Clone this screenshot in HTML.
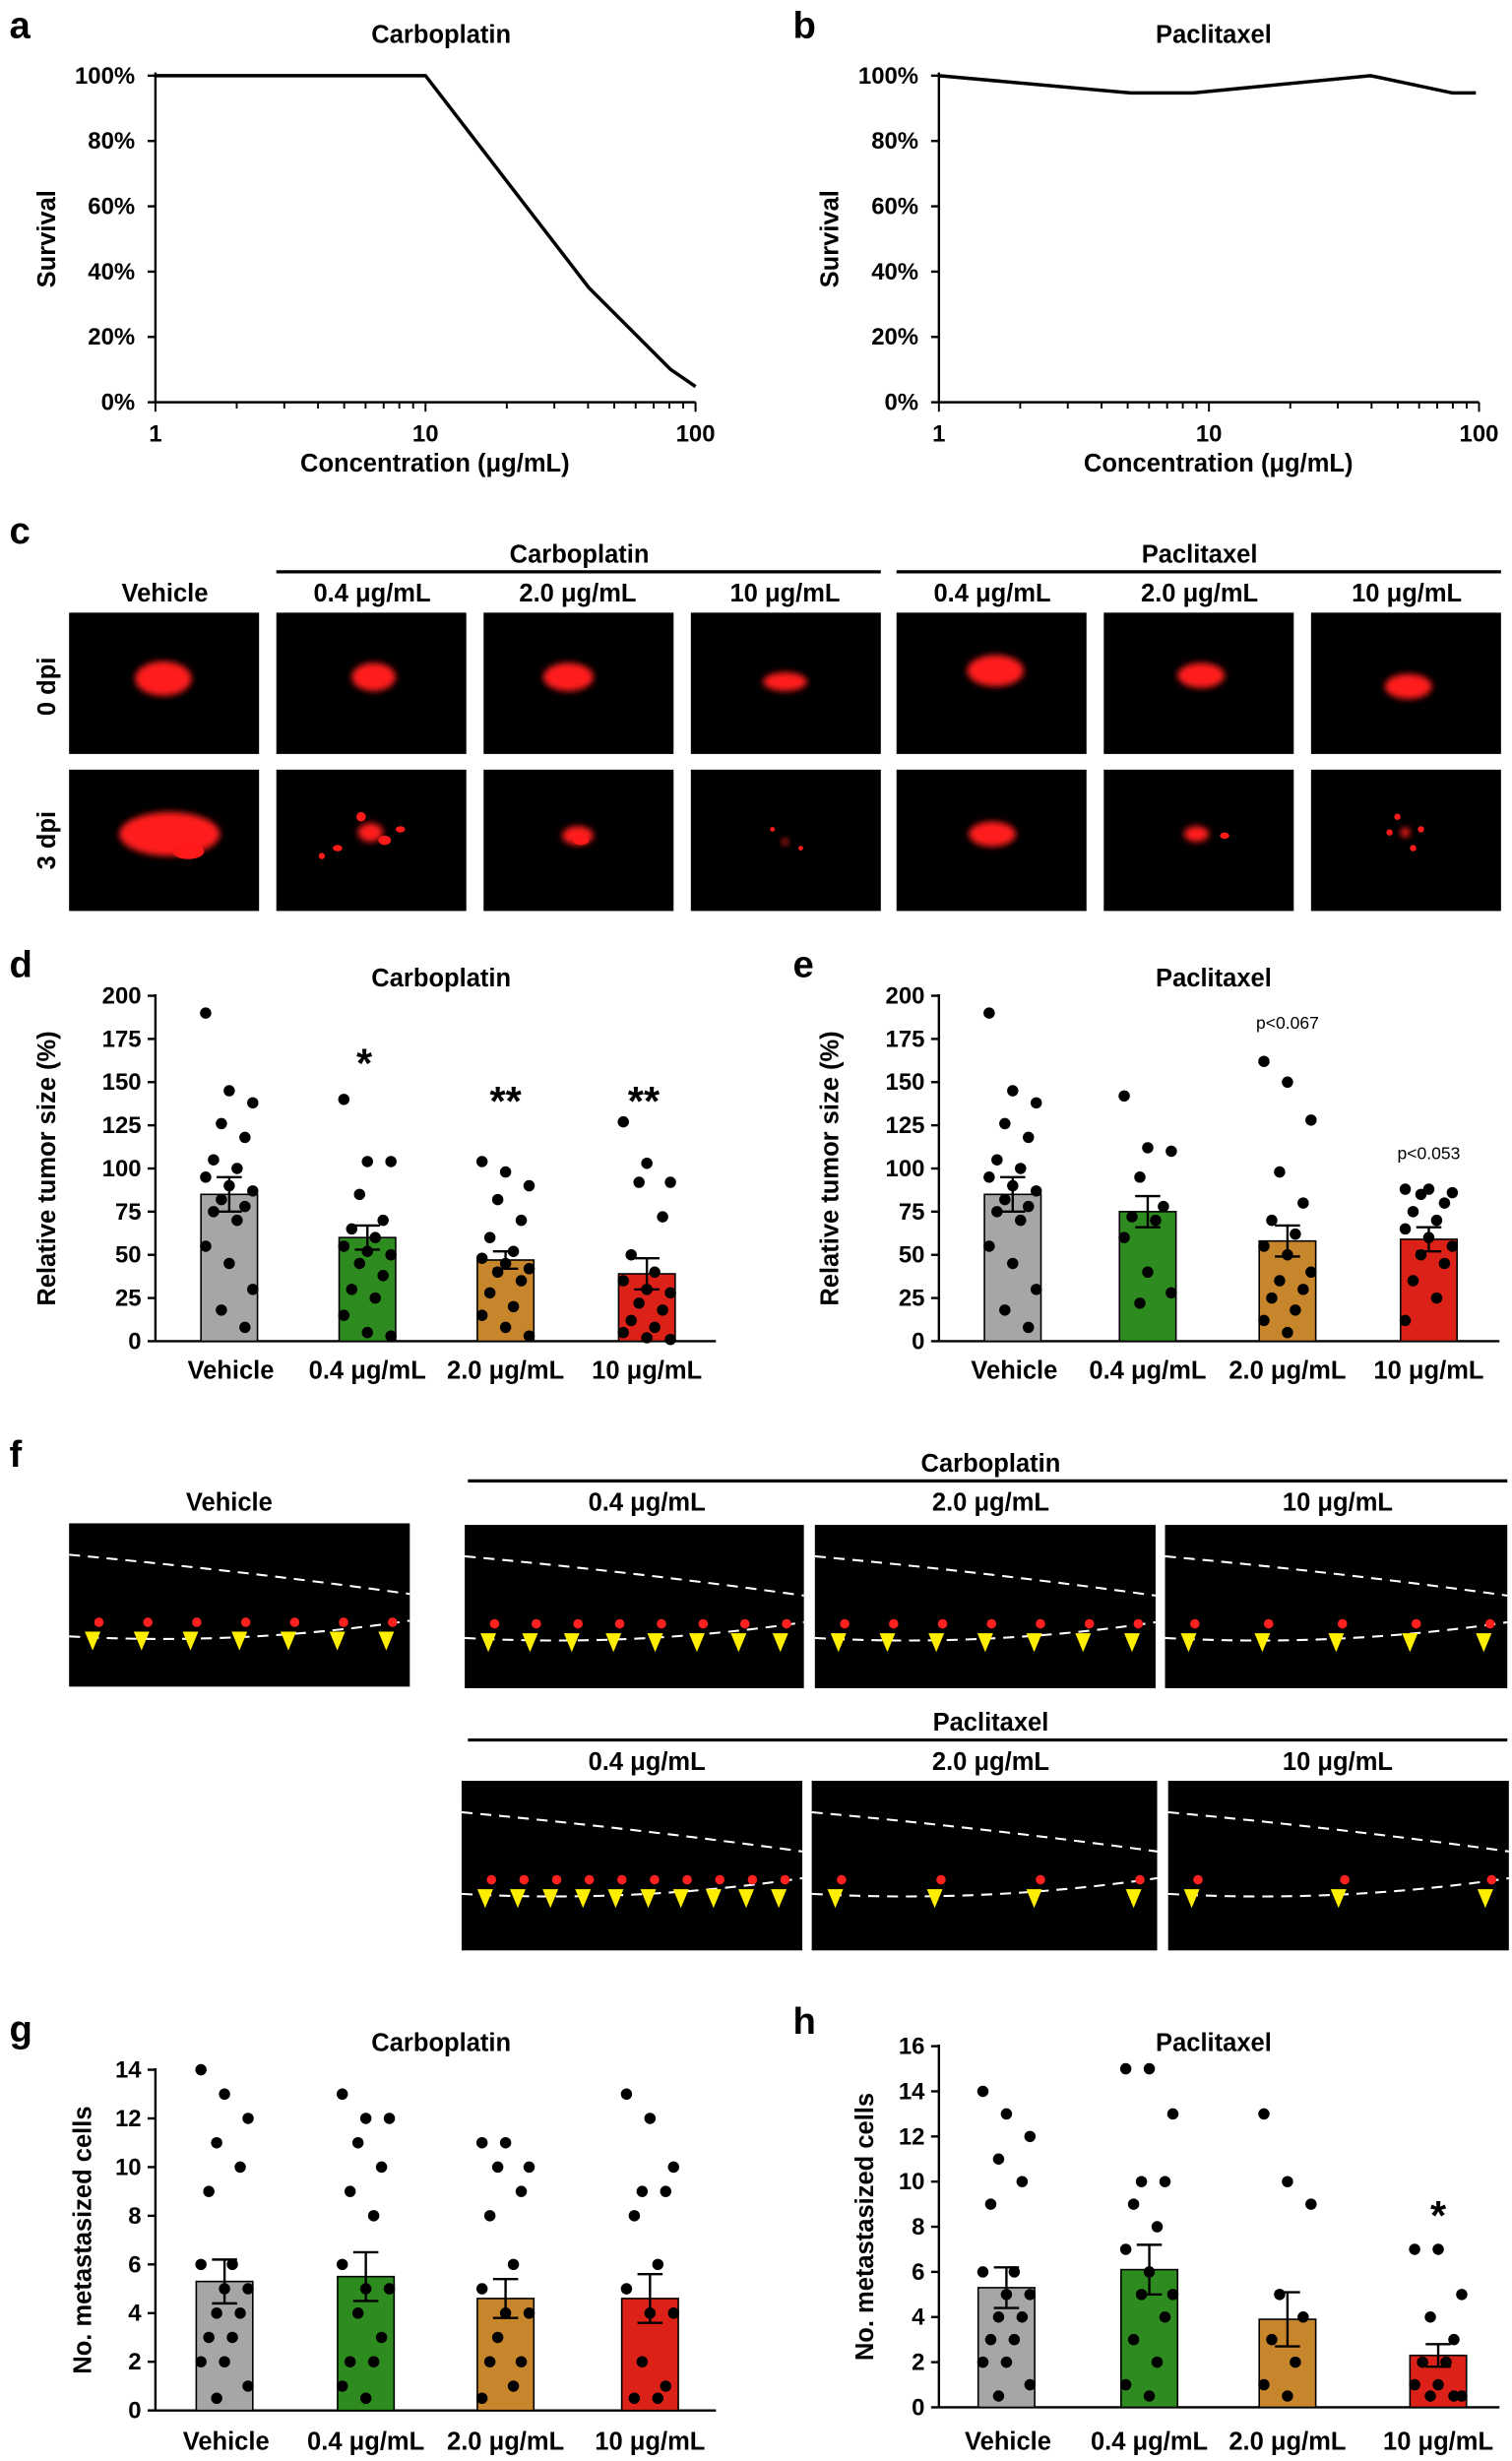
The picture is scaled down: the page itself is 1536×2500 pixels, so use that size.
<!DOCTYPE html>
<html><head><meta charset="utf-8">
<style>
html,body{margin:0;padding:0;background:#fff;}
svg{display:block;}
text{font-family:"Liberation Sans",Arial,sans-serif;fill:#000;}
.t{font-weight:bold;font-size:16px;text-anchor:middle;}
.tk{font-weight:bold;font-size:15px;}
.lab{font-weight:bold;font-size:24px;}
</style></head><body>
<svg id="s" width="1536" height="2500" viewBox="0 0 963 1567" xmlns="http://www.w3.org/2000/svg">
<defs><filter id="bl" x="-50%" y="-50%" width="200%" height="200%"><feGaussianBlur stdDeviation="2"/></filter></defs>
<rect width="963" height="1567" fill="#fff"/>
<text class="lab" x="6" y="24">a</text>
<text class="t" x="281" y="27">Carboplatin</text>
<text class="lab" x="505" y="24">b</text>
<text class="t" x="773" y="27">Paclitaxel</text>
<g id="ab"></g>
<text class="lab" x="6" y="346">c</text>
<text class="t" x="369" y="358">Carboplatin</text>
<line x1="176" y1="364" x2="561" y2="364" stroke="#000" stroke-width="2"/>
<text class="t" x="764" y="358">Paclitaxel</text>
<line x1="571" y1="364" x2="956" y2="364" stroke="#000" stroke-width="2"/>
<text class="t" x="105" y="383">Vehicle</text>
<text class="t" x="237" y="383">0.4 μg/mL</text>
<text class="t" x="368" y="383">2.0 μg/mL</text>
<text class="t" x="500" y="383">10 μg/mL</text>
<text class="t" x="632" y="383">0.4 μg/mL</text>
<text class="t" x="764" y="383">2.0 μg/mL</text>
<text class="t" x="896" y="383">10 μg/mL</text>
<text class="t" transform="translate(35,437) rotate(-90)">0 dpi</text>
<text class="t" transform="translate(35,535) rotate(-90)">3 dpi</text>
<g id="c"></g>
<text class="lab" x="6" y="622">d</text>
<text class="t" x="281" y="628">Carboplatin</text>
<text class="lab" x="505" y="622">e</text>
<text class="t" x="773" y="628">Paclitaxel</text>
<g id="de"></g>
<text class="lab" x="6" y="934">f</text>
<text class="t" x="146" y="962">Vehicle</text>
<text class="t" x="631" y="937">Carboplatin</text>
<line x1="298" y1="943" x2="960" y2="943" stroke="#000" stroke-width="2"/>
<text class="t" x="412" y="962">0.4 μg/mL</text>
<text class="t" x="631" y="962">2.0 μg/mL</text>
<text class="t" x="852" y="962">10 μg/mL</text>
<text class="t" x="631" y="1102">Paclitaxel</text>
<line x1="298" y1="1108" x2="960" y2="1108" stroke="#000" stroke-width="2"/>
<text class="t" x="412" y="1127">0.4 μg/mL</text>
<text class="t" x="631" y="1127">2.0 μg/mL</text>
<text class="t" x="852" y="1127">10 μg/mL</text>
<g id="f"></g>
<text class="lab" x="6" y="1300">g</text>
<text class="t" x="281" y="1306">Carboplatin</text>
<text class="lab" x="505" y="1295">h</text>
<text class="t" x="773" y="1306">Paclitaxel</text>
<g id="gh"></g>
</svg>
<script>
var NS="http://www.w3.org/2000/svg";
function el(p,n,a,txt){var e=document.createElementNS(NS,n);for(var k in a)e.setAttribute(k,a[k]);if(txt!==undefined)e.textContent=txt;p.appendChild(e);return e;}
var ab=document.getElementById('ab');
function surv(x0,pts){
 var y0=256,y1=48,x1=x0+344;
 el(ab,'line',{x1:x0,y1:y1-2,x2:x0,y2:y0,stroke:'#000','stroke-width':1.5});
 el(ab,'line',{x1:x0,y1:y0,x2:x1,y2:y0,stroke:'#000','stroke-width':1.5});
 var labs=['0%','20%','40%','60%','80%','100%'];
 for(var i=0;i<6;i++){var y=y0-i*41.6;el(ab,'line',{x1:x0-5,y1:y,x2:x0,y2:y,stroke:'#000','stroke-width':1.5});
  el(ab,'text',{x:x0-13,y:y+5,'text-anchor':'end','class':'tk'},labs[i]);}
 for(var d=0;d<3;d++){for(var m=1;m<10;m++){var x=x0+172*(d+Math.log10(m));if(d==2&&m>1)break;
  el(ab,'line',{x1:x,y1:y0,x2:x,y2:y0+(m==1?6:4),stroke:'#000','stroke-width':1.2});}}
 el(ab,'line',{x1:x1,y1:y0,x2:x1,y2:y0+6,stroke:'#000','stroke-width':1.2});
 ['1','10','100'].forEach(function(s,i){el(ab,'text',{x:x0+172*i,y:281,'text-anchor':'middle','class':'tk'},s);});
 el(ab,'text',{x:x0+178,y:300,'class':'t'},'Concentration (μg/mL)');
 el(ab,'text',{transform:'translate('+(x0-64)+',152) rotate(-90)','class':'t'},'Survival');
 el(ab,'polyline',{points:pts,fill:'none',stroke:'#000','stroke-width':2.2});
}
surv(99,'99,48 271,48 375,183 427,235 443,246');
surv(598,'598,48 720,59 760,59 873,48 925,59 940,59');
var c=document.getElementById('c');
var xs=[44,176,308,440,571,703,835];
var blobs0=[[104,432,18,11],[238,431,14,9],[362,431,16,9],[500,434,14,6],[634,427,18,10],[765,430,15,8],[897,437,15,8]];
var blobs1=[[108,531,32,14],[236,530,8,6],[368,532,10,6],[500,536,2,2],[632,531,15,8],[762,531,8,5],[895,530,3,3]];
for(var i=0;i<7;i++){
 el(c,'rect',{x:xs[i],y:390,width:121,height:90,fill:'#000'});
 el(c,'rect',{x:xs[i],y:490,width:121,height:90,fill:'#000'});
 var b=blobs0[i];el(c,'ellipse',{cx:b[0],cy:b[1],rx:b[2],ry:b[3],fill:'#ff1a1a',filter:'url(#bl)'});
 b=blobs1[i];el(c,'ellipse',{cx:b[0],cy:b[1],rx:b[2],ry:b[3],fill:'#ff1a1a',filter:'url(#bl)'});
}
var sp=[[120,542,10,5],[230,520,3,3],[245,535,4,3],[215,540,3,2],[255,528,3,2],[205,545,2,2],[370,535,5,3],[780,532,3,2],[890,520,2,2],[900,540,2,2],[885,530,2,2],[905,528,2,2],[492,528,1.5,1.5],[510,540,1.5,1.5]];
sp.forEach(function(b){el(c,'ellipse',{cx:b[0],cy:b[1],rx:b[2],ry:b[3],fill:'#ff1a1a'});});
function bars(g,x0,y0,ytop,maxv,step,ticks,centers,heights,errs,cols,dots,ylab,ylabx,labY){
 var sc=(y0-ytop)/maxv;
 el(g,'line',{x1:x0,y1:ytop-1,x2:x0,y2:y0,stroke:'#000','stroke-width':1.5});
 el(g,'line',{x1:x0,y1:y0,x2:x0+357,y2:y0,stroke:'#000','stroke-width':1.5});
 for(var v=0;v<=maxv;v+=step){var y=y0-v*sc;el(g,'line',{x1:x0-5,y1:y,x2:x0,y2:y,stroke:'#000','stroke-width':1.5});
  el(g,'text',{x:x0-9,y:y+5,'text-anchor':'end','class':'tk'},String(v));}
 el(g,'text',{transform:'translate('+ylabx+','+((y0+ytop)/2)+') rotate(-90)','class':'t'},ylab);
 var xl=['Vehicle','0.4 μg/mL','2.0 μg/mL','10 μg/mL'];
 for(var i=0;i<4;i++){var cx=centers[i],h=heights[i]*sc;
  el(g,'rect',{x:cx-18,y:y0-h,width:36,height:h,fill:cols[i],stroke:'#000','stroke-width':1});
  var e=errs[i]*sc;el(g,'line',{x1:cx,y1:y0-h-e,x2:cx,y2:y0-h+e,stroke:'#000','stroke-width':1.5});
  el(g,'line',{x1:cx-8,y1:y0-h-e,x2:cx+8,y2:y0-h-e,stroke:'#000','stroke-width':1.5});
  el(g,'line',{x1:cx-8,y1:y0-h+e,x2:cx+8,y2:y0-h+e,stroke:'#000','stroke-width':1.5});
  var d=dots[i];
  for(var j=0;j<d.length;j++){var off=((j*3)%7-3)*5;
   el(g,'circle',{cx:cx+off,cy:y0-d[j]*sc,r:3.6,fill:'#000'});}
  el(g,'text',{x:cx+(i==0?1:0),y:labY,'class':'t'},xl[i]);
 }
}
var gray='#a6a6a6',green='#2e8b1f',orange='#c8862c',red='#dc2218';
var de=document.getElementById('de');
var dVeh=[190,145,138,126,118,105,100,95,90,87,82,78,75,70,55,45,30,18,8];
bars(de,99,854,634,200,25,0,[146,234,322,412],[85,60,47,39],[10,7,5,9],[gray,green,orange,red],
 [dVeh,[140,104,104,85,70,65,60,55,52,50,45,38,30,25,15,5,3],[104,98,90,82,70,60,52,48,45,42,40,35,28,20,15,8,3],[127,103,92,92,72,50,40,35,30,28,22,18,12,8,5,2,1]],
 'Relative tumor size (%)',35,878);
bars(de,598,854,634,200,25,0,[645,731,820,910],[85,75,58,59],[10,9,9,7],[gray,green,orange,red],
 [dVeh,[142,112,110,95,78,72,70,60,40,28,22],[162,150,128,98,80,70,62,55,50,40,35,30,25,18,12,5],[88,88,86,85,80,75,70,65,60,55,50,45,35,25,12]],
 'Relative tumor size (%)',534,878);
el(de,'text',{x:232,y:686,'class':'t',style:'font-size:26px'},'*');
el(de,'text',{x:322,y:710,'class':'t',style:'font-size:26px'},'**');
el(de,'text',{x:410,y:710,'class':'t',style:'font-size:26px'},'**');
el(de,'text',{x:820,y:655,'text-anchor':'middle','font-size':'11'},'p<0.067');
el(de,'text',{x:910,y:738,'text-anchor':'middle','font-size':'11'},'p<0.053');
var f=document.getElementById('f');
var imgs=[[44,970,217,104],[296,971,216,104],[519,971,217,104],[742,971,218,104],[294,1134,217,108],[517,1134,220,108],[744,1134,217,108]];
imgs.forEach(function(r,k){
 el(f,'rect',{x:r[0],y:r[1],width:r[2],height:r[3],fill:'#000'});
 var x=r[0],y=r[1],w=r[2];
 el(f,'path',{d:'M'+x+' '+(y+20)+' Q'+(x+w/2)+' '+(y+30)+' '+(x+w)+' '+(y+45),stroke:'#fff','stroke-width':1.3,'stroke-dasharray':'7,5',fill:'none'});
 el(f,'path',{d:'M'+x+' '+(y+72)+' Q'+(x+w/2)+' '+(y+78)+' '+(x+w)+' '+(y+62),stroke:'#fff','stroke-width':1.3,'stroke-dasharray':'7,5',fill:'none'});
 var n=[7,8,7,5,10,4,3][k];
 for(var i=0;i<n;i++){var ax=x+15+i*(w-30)/Math.max(n-1,1);var ay=y+75;
  el(f,'circle',{cx:ax+4,cy:ay-12,r:3,fill:'#ff2020'});
  el(f,'polygon',{points:(ax-5)+','+(ay-6)+' '+(ax+5)+','+(ay-6)+' '+ax+','+(ay+6),fill:'#ffee00'});}
});
var gh=document.getElementById('gh');
bars(gh,99,1535,1318,14,2,0,[143,233,322,414],[5.3,5.5,4.6,4.6],[0.9,1.0,0.8,1.0],[gray,green,orange,red],
 [[14,13,12,11,10,9,6,6,5,5,4,4,3,3,2,2,1,0.5],[13,12,12,11,10,9,8,6,5,5,4,3,2,2,1,0.5],[11,11,10,10,9,8,6,5,4,4,3,2,2,1,0.5],[13,12,10,9,9,8,6,5,4,4,2,1,0.5,0.5]],
 'No. metastasized cells',58,1560);
bars(gh,598,1533,1303,16,2,0,[641,732,820,916],[5.3,6.1,3.9,2.3],[0.9,1.1,1.2,0.5],[gray,green,orange,red],
 [[14,13,12,11,10,9,6,6,5,5,4,4,3,3,2,2,1,0.5],[15,15,13,10,10,9,8,7,6,5,5,4,3,2,1,0.5],[13,10,9,5,4,3,2,1,0.5],[7,7,5,4,3,2,2,1,1,0.5,0.5,0.5]],
 'No. metastasized cells',556,1560);
el(gh,'text',{x:916,y:1420,'class':'t',style:'font-size:26px'},'*');
</script>
</body></html>
